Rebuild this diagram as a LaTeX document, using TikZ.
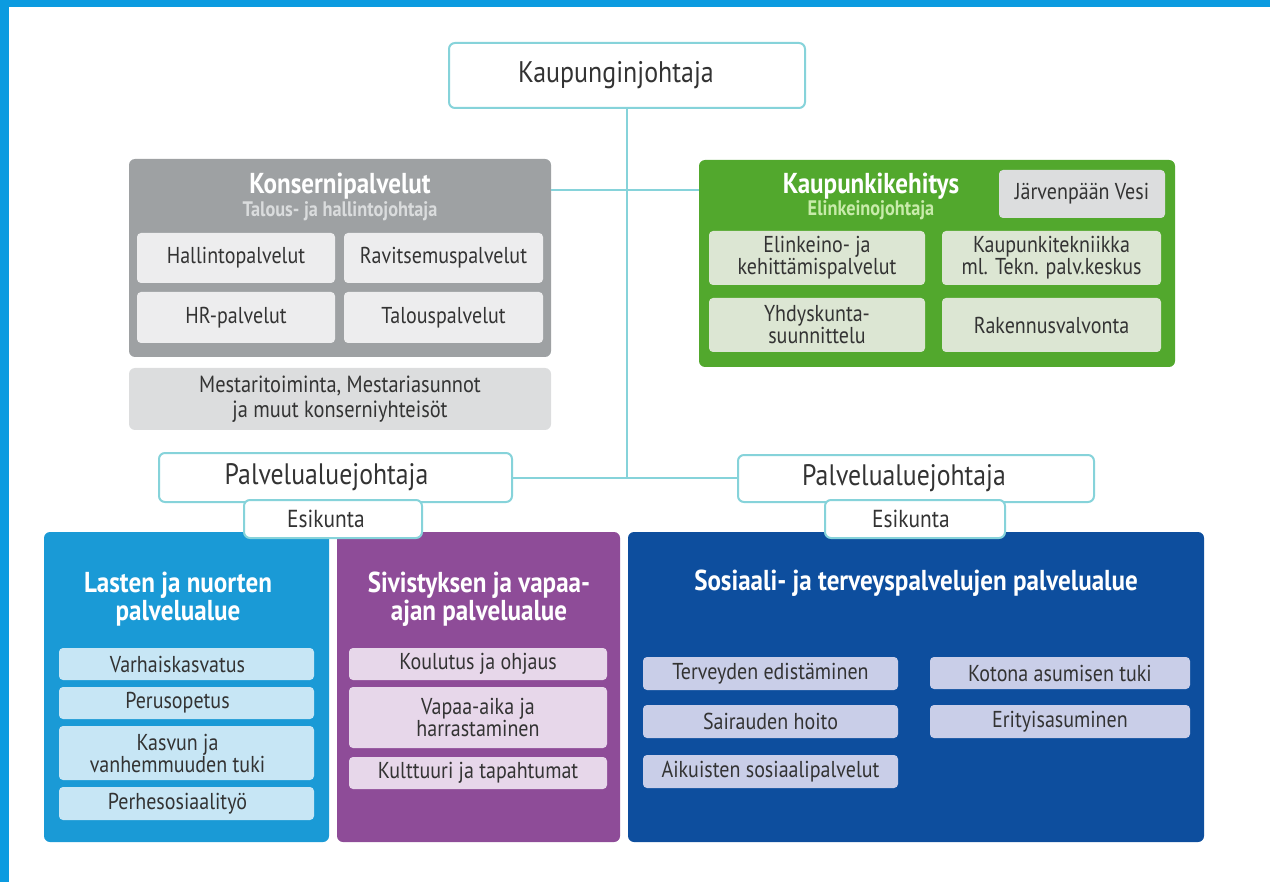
\documentclass[tikz,border=0pt]{standalone}
\usepackage{fontspec}
\setmainfont{PT Sans}[FakeStretch=0.87]
\definecolor{frame}{HTML}{0B9BE0}
\definecolor{teal}{HTML}{86D3DA}
\definecolor{txt}{HTML}{333333}
\definecolor{kgray}{HTML}{9EA1A3}
\definecolor{kgsub}{HTML}{EDEDEE}
\definecolor{kmest}{HTML}{DCDDDE}
\definecolor{kgsubt}{HTML}{DADCDD}
\definecolor{green}{HTML}{52A82D}
\definecolor{gsub}{HTML}{DCE6D3}
\definecolor{gsubt}{HTML}{C8EBAA}
\definecolor{lblue}{HTML}{1A9AD6}
\definecolor{lbsub}{HTML}{C7E6F5}
\definecolor{purp}{HTML}{8E4C98}
\definecolor{pusub}{HTML}{E7D7EA}
\definecolor{dblue}{HTML}{0D4E9E}
\definecolor{dbsub}{HTML}{C9CEE8}
\newcommand\bx[7]{%
 \pgfmathsetmacro\bxw{(#4-#2)*0.5}%
 \pgfmathsetmacro\bxh{(#5-#3)*0.5}%
 \node[#6, minimum width=\bxw pt, minimum height=\bxh pt, inner sep=0pt] (#1) at ({(#2+#4)/2},{(#3+#5)/2}) {#7};}
\newcommand\ls{\hspace*{-9pt}}
\tikzset{
 lead/.style={draw=teal, line width=1pt, fill=white, rounded corners=3pt, text=txt, align=center},
 conn/.style={draw=teal, line width=1pt},
 grp/.style={rounded corners=3pt, align=center},
 item/.style={rounded corners=2pt, text=txt, align=center, font=\fontsize{11.5}{11}\selectfont},
 ttl/.style={text=white, font=\bfseries\fontsize{14.4}{14}\selectfont, align=center},
 subt/.style={font=\bfseries\fontsize{10.5}{12}\selectfont},
}
\begin{document}
\begin{tikzpicture}[x=0.5pt,y=-0.5pt]
\useasboundingbox (0,0) rectangle (1270,882);
\fill[frame] (0,0) rectangle (1270,7);
\fill[frame] (0,0) rectangle (9,882);
% group boxes
\bx{kons}{129}{159}{551}{357}{grp, fill=kgray}{}
\bx{mest}{129}{368}{551}{430}{grp, fill=kmest, text=txt, font=\fontsize{11.7}{12.5}\selectfont}{Mestaritoiminta, Mestariasunnot\\ja muut konserniyhteisöt}
\bx{keh}{699}{160}{1175}{367}{grp, fill=green}{}
\bx{lasten}{44}{532}{329}{842}{grp, fill=lblue}{}
\bx{sivi}{337}{532}{620}{842}{grp, fill=purp}{}
\bx{sote}{628}{532}{1204}{842}{grp, fill=dblue}{}
% leaders
\bx{kj}{449}{43}{805}{108}{lead, font=\fontsize{14.9}{16}\selectfont}{\hspace*{-11pt}Kaupunginjohtaja}
\bx{palvL}{159}{453}{512}{502}{lead, font=\fontsize{14.8}{16}\selectfont}{\hspace*{-9pt}Palvelualuejohtaja}
\bx{palvR}{738}{455}{1094}{502}{lead, font=\fontsize{14.8}{16}\selectfont}{\hspace*{-12pt}Palvelualuejohtaja}
\bx{esiL}{244}{500}{422}{538}{lead, font=\fontsize{12.3}{13}\selectfont}{\hspace*{-7pt}Esikunta}
\bx{esiR}{825}{500}{1005}{538}{lead, font=\fontsize{12.3}{13}\selectfont}{\hspace*{-4pt}Esikunta}
\coordinate (c1) at (600,190);
% titles
\node[ttl] (konsT) at (340,186) {Konsernipalvelut};
\node[subt, text=kgsubt] (konsS) at (340,211) {Talous- ja hallintojohtaja};
\node[ttl] (kehT) at (871,186) {Kaupunkikehitys};
\node[subt, text=gsubt] (kehS) at (871,210) {Elinkeinojohtaja};
\node[ttl] (lastT) at (178,599) {Lasten ja nuorten\\palvelualue};
\node[ttl] (siviT) at (479,599) {Sivistyksen ja vapaa-\\ajan palvelualue};
\node[ttl] (soteT) at (916,583) {Sosiaali- ja terveyspalvelujen palvelualue};
% items konserni
\bx{hal}{137}{233}{335}{283}{item, fill=kgsub}{Hallintopalvelut}
\bx{rav}{344}{233}{543}{283}{item, fill=kgsub}{Ravitsemuspalvelut}
\bx{hr}{137}{292}{335}{343}{item, fill=kgsub}{HR-palvelut}
\bx{tal}{344}{292}{543}{343}{item, fill=kgsub}{Talouspalvelut}
% items kehitys
\bx{ves}{999}{170}{1165}{218}{item, fill=kmest}{Järvenpään Vesi}
\bx{eli}{709}{231}{925}{285}{item, fill=gsub}{Elinkeino- ja\\kehittämispalvelut}
\bx{kt}{942}{231}{1161}{285}{item, fill=gsub}{Kaupunkitekniikka\\ml. Tekn. palv.keskus}
\bx{yhd}{709}{298}{925}{352}{item, fill=gsub}{Yhdyskunta-\\suunnittelu}
\bx{rak}{942}{298}{1161}{352}{item, fill=gsub}{Rakennusvalvonta}
% items lasten
\bx{var}{59}{648}{314}{680}{item, fill=lbsub}{\ls Varhaiskasvatus}
\bx{per}{59}{687}{314}{719}{item, fill=lbsub}{\ls Perusopetus}
\bx{kas}{59}{726}{314}{780}{item, fill=lbsub}{\ls Kasvun ja\\\ls vanhemmuuden tuki}
\bx{phs}{59}{787}{314}{820}{item, fill=lbsub}{\ls Perhesosiaalityö}
% items sivistys
\bx{kou}{349}{648}{607}{680}{item, fill=pusub}{Koulutus ja ohjaus}
\bx{vap}{349}{687}{607}{748}{item, fill=pusub}{Vapaa-aika ja\\harrastaminen}
\bx{kul}{349}{757}{607}{789}{item, fill=pusub}{Kulttuuri ja tapahtumat}
% items sote
\bx{ter}{643}{657}{898}{690}{item, fill=dbsub}{Terveyden edistäminen}
\bx{sai}{643}{705}{898}{738}{item, fill=dbsub}{Sairauden hoito}
\bx{aik}{643}{755}{898}{788}{item, fill=dbsub}{Aikuisten sosiaalipalvelut}
\bx{kot}{930}{657}{1190}{689}{item, fill=dbsub}{Kotona asumisen tuki}
\bx{eri}{930}{705}{1190}{738}{item, fill=dbsub}{Erityisasuminen}
% connectors
\draw[conn] (kj.south) -- (kj.south |- palvL.east);
\draw[conn] (kons.east |- c1) -- (keh.west |- c1);
\draw[conn] (palvL.east) -- (palvR.west |- palvL.east);
\end{tikzpicture}
\end{document}
